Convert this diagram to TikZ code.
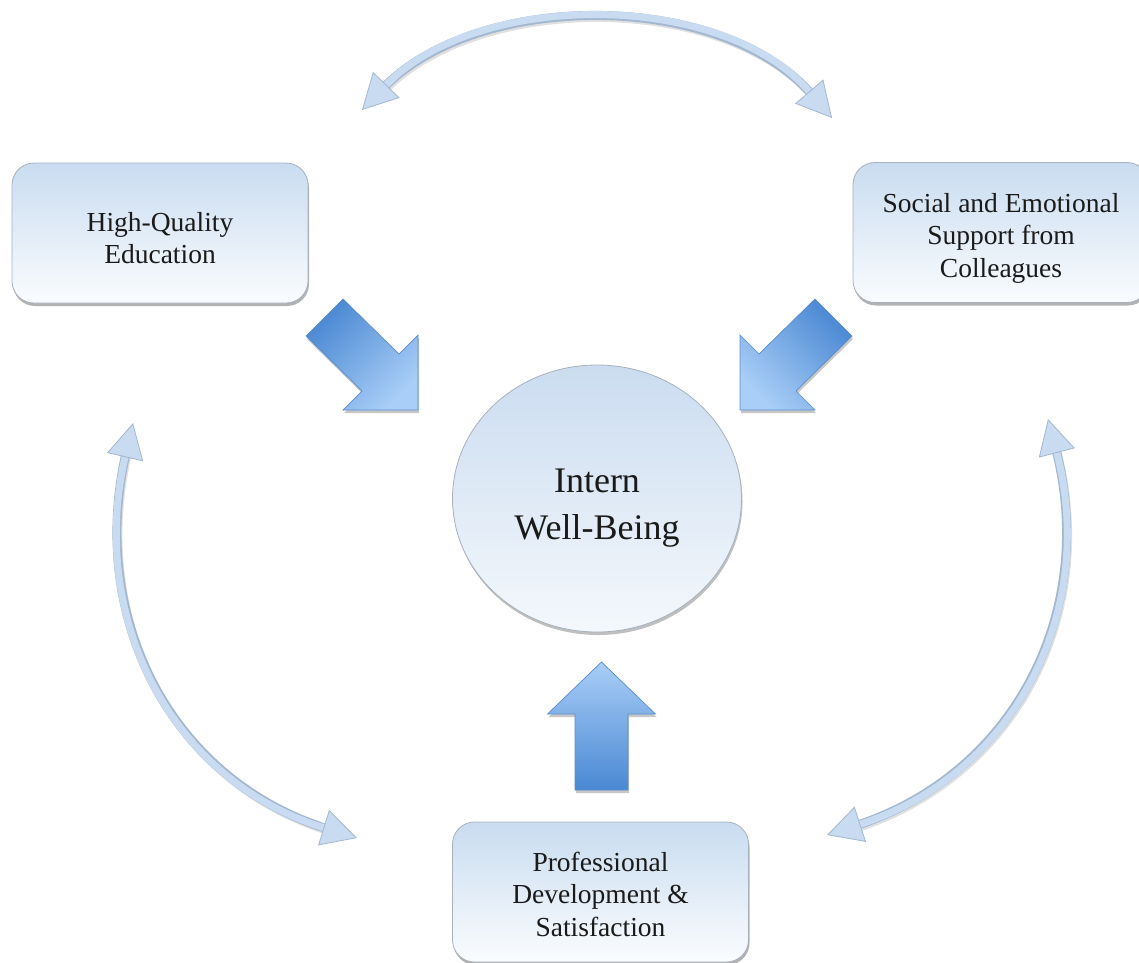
\documentclass[tikz,border=0pt]{standalone}
\usepackage{fontspec}
\setmainfont{Liberation Serif}
\usetikzlibrary{arrows.meta,shapes.geometric,shadows}
\definecolor{boxtop}{HTML}{C9DCF0}
\definecolor{boxbot}{HTML}{FAFCFE}
\definecolor{hubtop}{HTML}{CBDCF0}
\definecolor{hubbot}{HTML}{F4F8FC}
\definecolor{boxedge}{HTML}{A7B1BD}
\definecolor{arcfill}{HTML}{C8DBF0}
\definecolor{arcedge}{HTML}{A2B7D0}
\definecolor{blkdark}{HTML}{4A88D3}
\definecolor{blklight}{HTML}{A9CEF7}
\definecolor{blkedge}{HTML}{5A8CCB}
\definecolor{txt}{HTML}{1A1A1A}
\begin{document}
\begin{tikzpicture}[x=1pt,y=-1pt,
  factor/.style={rounded corners=22pt, minimum width=296pt, minimum height=140pt,
    top color=boxtop, bottom color=boxbot, draw=boxedge, line width=0.8pt,
    drop shadow={shadow xshift=1pt, shadow yshift=-3pt, fill=black, opacity=0.3}},
  factortext/.style={align=center, text=txt, font=\fontsize{27.5}{32.5}\selectfont, inner sep=0pt},
  hub/.style={ellipse, minimum width=289pt, minimum height=267pt, inner sep=0pt,
    top color=hubtop, bottom color=hubbot, draw=boxedge, line width=0.8pt,
    drop shadow={shadow xshift=1pt, shadow yshift=-3pt, fill=black, opacity=0.25}},
  hubtext/.style={align=center, text=txt, font=\fontsize{36}{46.5}\selectfont, inner sep=0pt},
  arcshadow/.style={line width=8pt, black, opacity=0.12, shorten <=30pt, shorten >=30pt, transform canvas={shift={(1.5pt,-2.5pt)}}},
  arcshaft/.style={line width=9pt, arcedge, shorten <=30pt, shorten >=30pt},
  arcbody/.style={line width=7pt, arcfill,
    {Triangle[length=35pt,width=37pt,fill=arcfill,color=arcedge,line width=0.8pt]}-{Triangle[length=35pt,width=37pt,fill=arcfill,color=arcedge,line width=0.8pt]}},
  block/.style={draw=blkedge, line width=0.7pt, line join=miter,
    drop shadow={shadow xshift=1pt, shadow yshift=-3pt, fill=black, opacity=0.22}}
]
\useasboundingbox (0,0) rectangle (1139,962);

% free ends of the curved double arrows
\coordinate (tl) at (362,110);
\coordinate (tr) at (832,118);
\coordinate (la) at (133,423);
\coordinate (lb) at (357,838);
\coordinate (ra) at (1048,419);
\coordinate (rb) at (827,835);

% curved double arrows
\draw[arcshadow] (tl) .. controls (478,-10) and (722,-10) .. (tr);
\draw[arcshaft] (tl) .. controls (478,-10) and (722,-10) .. (tr);
\draw[arcbody] (tl) .. controls (478,-10) and (722,-10) .. (tr);

\draw[arcshadow] (la) .. controls (88,617) and (170,780) .. (lb);
\draw[arcshaft] (la) .. controls (88,617) and (170,780) .. (lb);
\draw[arcbody] (la) .. controls (88,617) and (170,780) .. (lb);

\draw[arcshadow] (ra) .. controls (1098,611) and (1015,774) .. (rb);
\draw[arcshaft] (ra) .. controls (1098,611) and (1015,774) .. (rb);
\draw[arcbody] (ra) .. controls (1098,611) and (1015,774) .. (rb);

% block arrows
\path[block, top color=blkdark, bottom color=blklight, shading angle=45]
  (343,299) -- (399,354) -- (418,335) -- (418,410) -- (343,410) -- (362,391) -- (306,336) -- cycle;
\path[block, top color=blkdark, bottom color=blklight, shading angle=-45]
  (815,299) -- (759,354) -- (740,335) -- (740,410) -- (815,410) -- (796,391) -- (852,336) -- cycle;
\path[block, top color=blklight, bottom color=blkdark]
  (601.5,662) -- (655.5,714) -- (628,714) -- (628,790) -- (575,790) -- (575,714) -- (547.5,714) -- cycle;

% nodes
\node[factor] (hq) at (160,233) {};
\node[factortext] (hqt) at (160,238) {High-Quality\\Education};
\node[factor] (soc) at (1001,232.5) {};
\node[factortext] (soct) at (1001,238) {Social and Emotional\\Support from\\Colleagues};
\node[factor] (pd) at (600.5,892) {};
\node[factortext] (pdt) at (600.5,894) {Professional\\Development \&\\Satisfaction};
\node[hub] (iwb) at (597,498.5) {};
\node[hubtext] (iwbt) at (597,508) {Intern\\Well-Being};
\end{tikzpicture}
\end{document}
